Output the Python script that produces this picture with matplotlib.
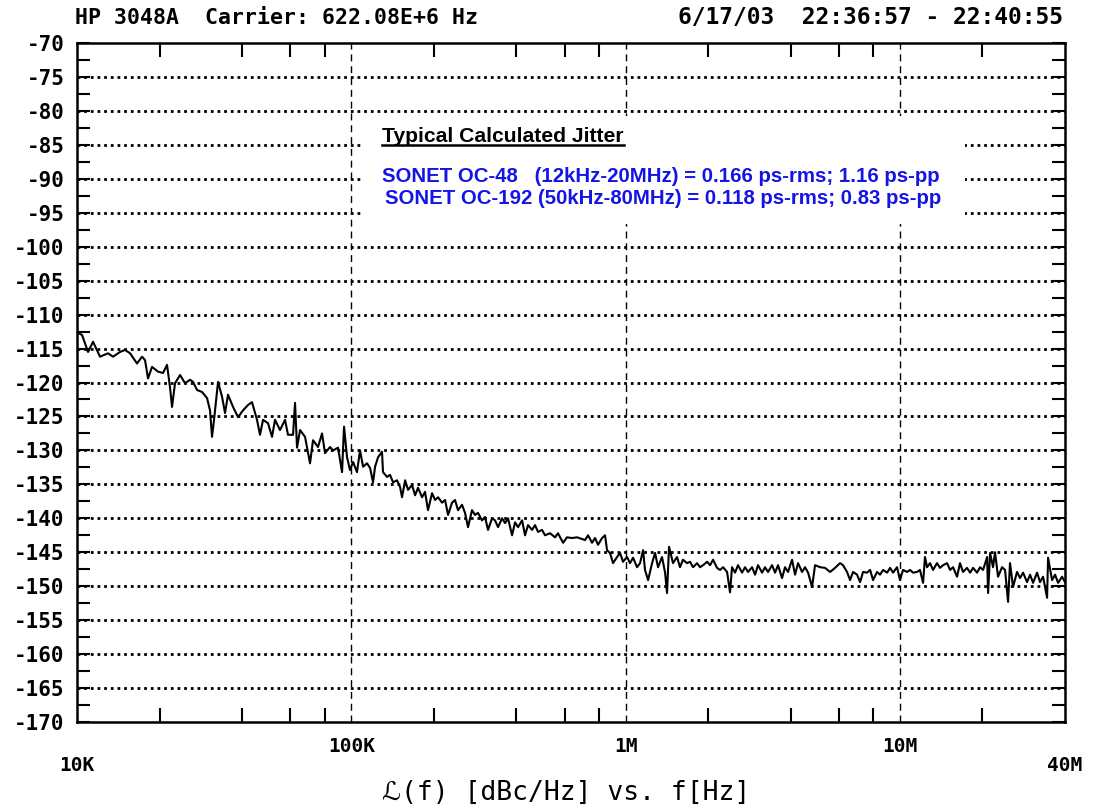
import numpy as np
import matplotlib.pyplot as plt
from matplotlib.ticker import FixedLocator
from matplotlib.patches import Rectangle
from matplotlib.lines import Line2D
from matplotlib.transforms import IdentityTransform

# Traza de ruido de fase (frecuencia en kHz, nivel en dBc/Hz)
freq_khz_low = [10.0, 10.43, 10.97, 11.44, 12.13, 12.97, 13.53, 14.35, 14.96, 15.61,
                16.55, 17.26, 17.70, 18.15, 18.77, 19.74, 20.59, 21.29, 21.83, 22.20,
                22.77, 23.75, 24.76, 25.83, 26.48, 27.39, 28.57, 29.79, 30.54, 31.06,
                31.59, 32.67, 33.79, 34.64, 35.52, 37.06, 38.64, 40.30, 42.03, 43.45,
                45.32, 46.47, 47.66, 49.70, 51.40, 52.71, 54.97, 57.33, 58.78, 61.31,
                62.35, 63.41, 65.03, 67.81, 70.72, 72.52, 75.62, 78.21, 80.20]
level_low = [-112.6, -113.0, -115.5, -114.0, -116.2, -115.7, -116.2, -115.5, -115.2, -115.7,
             -117.2, -116.2, -116.7, -119.4, -117.7, -118.4, -118.6, -117.4, -120.7, -123.6,
             -120.1, -118.9, -120.1, -119.6, -119.9, -121.1, -121.4, -122.3, -124.1, -128.0,
             -125.5, -119.9, -122.1, -124.5, -121.8, -123.6, -125.1, -124.1, -123.3, -122.9,
             -125.5, -127.7, -125.5, -126.0, -128.0, -125.5, -127.0, -125.5, -127.7, -127.7,
             -123.0, -129.6, -127.0, -128.0, -131.9, -128.5, -129.5, -127.5, -130.4]

freq_khz_mid = [83.64, 85.78, 89.45, 92.52, 94.08, 96.48, 98.93, 101.5, 104.9, 107.6,
                110.4, 114.1, 117.1, 120.0, 122.1, 125.2, 129.4, 130.5, 135.0, 138.4,
                142.0, 146.8, 150.6, 153.1, 157.1, 161.0, 166.5, 170.8, 175.1, 181.1,
                185.7, 190.4, 197.0, 202.0, 207.2, 214.2, 219.7, 225.3, 232.9, 238.8,
                245.0, 253.3, 259.8, 266.4, 275.5, 282.5, 289.7, 299.6, 307.3, 315.1,
                326.0, 334.2, 342.8, 354.5, 363.6, 372.8, 385.5, 395.4, 405.5, 419.4,
                429.9, 440.9, 456.0, 467.6, 479.5, 495.9, 508.5, 530.3, 553.1, 567.2,
                591.6, 611.7, 638.0, 665.3]
level_mid = [-129.5, -130.0, -129.6, -133.2, -126.5, -131.0, -132.9, -131.7, -133.2, -130.0,
             -132.4, -131.9, -132.6, -134.7, -132.4, -131.0, -130.2, -133.2, -133.9, -133.6,
             -134.7, -134.4, -135.4, -136.9, -134.4, -135.8, -135.1, -136.6, -135.5, -136.9,
             -136.1, -138.8, -136.3, -137.3, -136.9, -137.7, -137.3, -139.5, -137.7, -137.3,
             -138.8, -138.0, -139.2, -141.3, -138.8, -139.5, -139.2, -140.3, -139.8, -141.7,
             -140.0, -140.3, -141.3, -140.0, -140.7, -140.0, -142.5, -140.6, -141.3, -140.3,
             -142.5, -141.0, -141.7, -141.0, -142.0, -141.7, -142.5, -142.2, -142.8, -142.2,
             -143.6, -142.8, -142.9, -142.8]

freq_khz_high = [711.6, 729.7, 754.6, 773.9, 793.6, 820.7, 841.6, 855.8, 877.6, 900.0,
                 930.8, 954.4, 978.8, 1012, 1038, 1065, 1101, 1129, 1158, 1177,
                 1208, 1249, 1281, 1313, 1358, 1393, 1416, 1440, 1489, 1540,
                 1579, 1619, 1675, 1718, 1762, 1822, 1868, 1916, 1982, 2032,
                 2084, 2155, 2210, 2267, 2344, 2403, 2444, 2507, 2570, 2658,
                 2726, 2796, 2891, 2965, 3040, 3145, 3224, 3306, 3420, 3507,
                 3596, 3719, 3814, 3911, 4045, 4148, 4254, 4399, 4511, 4627,
                 4785, 4907]
level_high = [-143.2, -142.5, -143.6, -142.9, -143.9, -142.9, -142.5, -144.7, -145.1, -146.6,
              -145.7, -145.1, -146.4, -145.7, -146.6, -145.8, -147.2, -146.6, -144.7, -147.6,
              -149.1, -146.6, -145.1, -147.2, -145.7, -148.0, -151.0, -144.2, -146.6, -145.7,
              -147.2, -146.1, -146.6, -146.4, -147.2, -146.6, -147.2, -146.9, -146.4, -146.9,
              -146.1, -147.3, -147.6, -147.2, -147.9, -150.9, -147.2, -148.0, -146.9, -148.0,
              -147.2, -147.9, -147.2, -148.3, -146.9, -148.0, -147.2, -147.9, -146.9, -148.0,
              -146.9, -148.8, -147.2, -147.9, -146.1, -148.3, -146.6, -147.9, -147.2, -148.0,
              -150.1, -146.9]

freq_khz_top = [5117, 5337, 5566, 5802, 6052, 6205, 6418, 6582, 6750, 6981,
                7160, 7342, 7593, 7788, 7985, 8257, 8468, 8685, 8982, 9210,
                9443, 9765, 10010, 10270, 10620, 10890, 11170, 11550, 11840, 12150,
                12350, 12560, 12880, 13210, 13660, 14010, 14370, 14860, 15240, 15630,
                16160, 16570, 16990, 17570, 18030, 18490, 19120, 19610, 20110, 20800,
                20970, 21330, 21860, 22230, 22800, 23580, 24180, 24800, 25210, 25860,
                26740, 27430, 28130, 29090, 29830, 30590, 31640, 32440, 33270, 34410,
                34700, 35880, 36800, 37740, 39030, 40000]
level_top = [-147.2, -147.3, -147.9, -147.3, -146.6, -146.9, -147.9, -149.1, -147.9, -148.3,
             -149.4, -147.9, -148.0, -147.6, -149.1, -147.9, -148.3, -147.6, -148.0, -147.3,
             -148.0, -147.2, -149.1, -147.6, -147.9, -147.6, -148.0, -147.9, -147.6, -149.5,
             -145.7, -147.2, -146.6, -147.6, -146.6, -147.3, -146.9, -146.6, -147.6, -147.2,
             -148.6, -146.6, -147.9, -147.3, -148.0, -147.3, -148.0, -147.2, -147.6, -145.7,
             -151.0, -145.1, -147.2, -145.0, -148.6, -147.2, -147.6, -152.3, -146.6, -150.1,
             -147.9, -148.8, -148.0, -149.4, -148.3, -149.5, -148.0, -149.4, -148.6, -151.7,
             -145.8, -149.1, -148.3, -149.5, -148.6, -149.4]

# Ejes y etiquetas
y_ticks = list(range(-170, -69, 5))
y_labels = [str(v) for v in y_ticks]
y_half_ticks = [v + 2.5 for v in y_ticks[:-1]]
x_major = [1e5, 1e6, 1e7]
x_major_labels = ["100K", "1M", "10M"]
x_minor = [2e4, 4e4, 6e4, 8e4, 2e5, 4e5, 6e5, 8e5, 2e6, 4e6, 6e6, 8e6, 2e7]
x_min, x_max = 1e4, 4e7

titulo_izq = "HP 3048A  Carrier: 622.08E+6 Hz"
titulo_der = "6/17/03  22:36:57 - 22:40:55"
etiqueta_x = "\u2112(f) [dBc/Hz] vs. f[Hz]"
jitter_titulo = "Typical Calculated Jitter"
jitter_lineas = ["SONET OC-48   (12kHz-20MHz) = 0.166 ps-rms; 1.16 ps-pp",
                 "SONET OC-192 (50kHz-80MHz) = 0.118 ps-rms; 0.83 ps-pp"]

MONO = ["DejaVu Sans Mono", "DejaVu Sans"]
AZUL = "#1414e6"

fig = plt.figure(figsize=(10.94, 8.11), dpi=100)
ax = fig.add_axes([0.0704, 0.1097, 0.9031, 0.8373])

freq_hz = np.concatenate([freq_khz_low, freq_khz_mid, freq_khz_high, freq_khz_top]) * 1e3
nivel = np.concatenate([level_low, level_mid, level_high, level_top])
ax.plot(freq_hz, nivel, color="black", lw=1.5, zorder=3)

ax.set_xscale("log")
ax.set_xlim(x_min, x_max)
ax.set_ylim(-170, -70)

# rejilla
for v in y_ticks[1:-1]:
    ax.axhline(v, color="black", lw=2.0, linestyle=(0, (1.0, 1.4)), zorder=1)
for f in x_major:
    ax.axvline(f, color="black", lw=1.0, linestyle=(0, (5, 3.5)), zorder=1)

# recuadro blanco del texto de jitter
ax.add_patch(Rectangle((0.288, 0.733), 0.611, 0.159, transform=ax.transAxes,
                       facecolor="white", edgecolor="none", zorder=2))

for s in ax.spines.values():
    s.set_linewidth(1.8)

ax.yaxis.set_major_locator(FixedLocator(y_ticks))
ax.yaxis.set_minor_locator(FixedLocator(y_half_ticks))
ax.set_yticklabels(y_labels, fontfamily=MONO, fontweight="bold", fontsize=15)
ax.tick_params(axis="y", which="both", direction="in", left=True, right=True,
               length=9.5, width=1.5, pad=9)

ax.xaxis.set_major_locator(FixedLocator(x_major))
ax.xaxis.set_minor_locator(FixedLocator(x_minor))
ax.set_xticklabels(x_major_labels, fontfamily=MONO, fontweight="bold", fontsize=14)
ax.tick_params(axis="x", which="major", length=0, pad=11)
ax.tick_params(axis="x", which="minor", direction="in", top=True, bottom=True,
               length=10, width=1.5, labelbottom=False)

for f, txt in [(x_min, "10K"), (x_max, "40M")]:
    ax.annotate(txt, xy=(f, 0), xycoords=("data", "axes fraction"),
                xytext=(0, -31), textcoords="offset points", ha="center", va="center",
                fontfamily=MONO, fontweight="bold", fontsize=14)

fig.text(75 / 1094, 1 - 18 / 811, titulo_izq, ha="left", va="center",
         fontfamily=MONO, fontweight="bold", fontsize=15.5)
fig.text(1063 / 1094, 1 - 18 / 811, titulo_der, ha="right", va="center",
         fontfamily=MONO, fontweight="bold", fontsize=16.5)
fig.text(566 / 1094, 1 - 793 / 811, etiqueta_x, ha="center", va="center",
         fontfamily=MONO, fontsize=19)

t_tit = ax.text(0.3087, 0.8616, jitter_titulo, transform=ax.transAxes, ha="left",
                va="center", fontfamily="Liberation Sans", fontweight="bold",
                fontsize=15.2, color="black", zorder=4)
ax.text(0.3087, 0.8041, jitter_lineas[0], transform=ax.transAxes, ha="left", va="center",
        fontfamily="Liberation Sans", fontweight="bold", fontsize=14.7, color=AZUL, zorder=4)
ax.text(0.3117, 0.7703, jitter_lineas[1], transform=ax.transAxes, ha="left", va="center",
        fontfamily="Liberation Sans", fontweight="bold", fontsize=14.7, color=AZUL, zorder=4)

# subrayado del titulo del recuadro
fig.canvas.draw()
bb = t_tit.get_window_extent()
fig.add_artist(Line2D([bb.x0, bb.x1], [bb.y0 + 1, bb.y0 + 1], color="black", lw=1.8,
                      transform=IdentityTransform()))

fig.savefig("out.png", dpi=100)
